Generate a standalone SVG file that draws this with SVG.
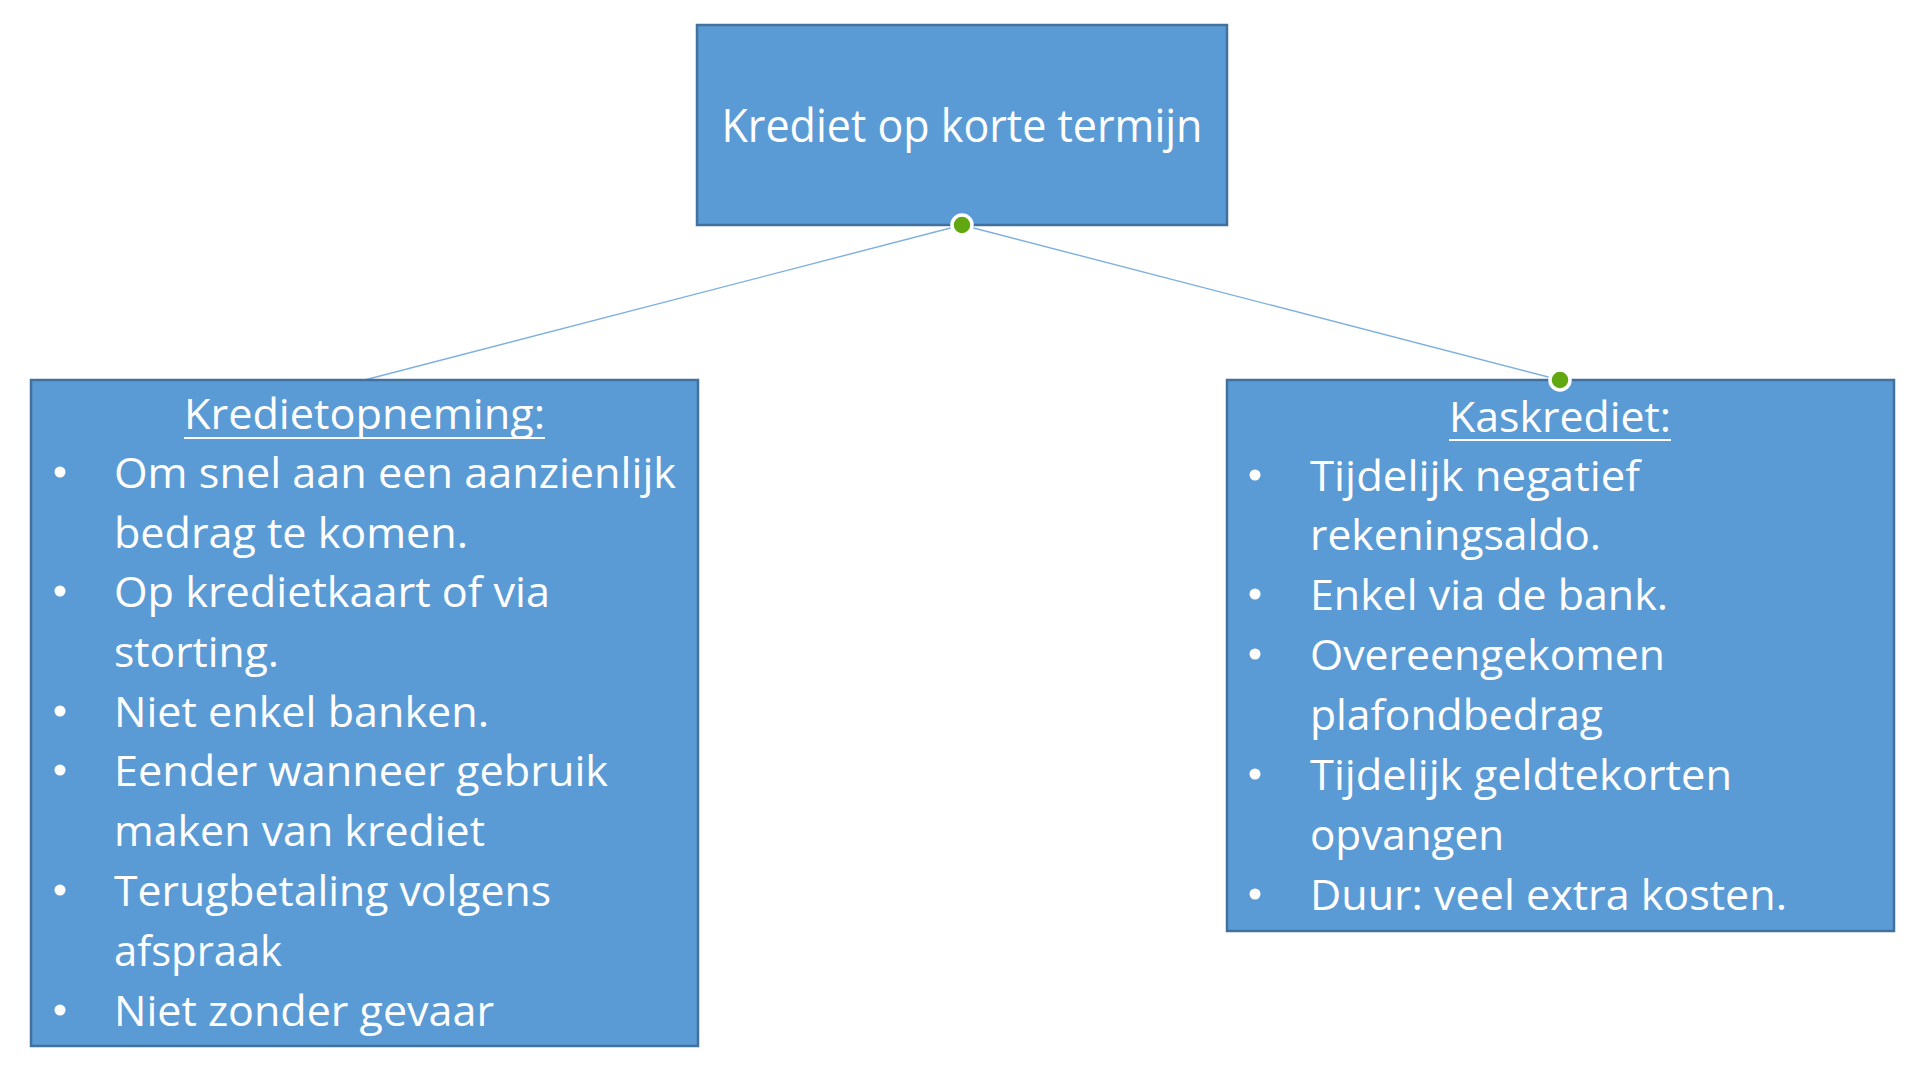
<svg xmlns="http://www.w3.org/2000/svg" width="1920" height="1065" viewBox="0 0 1920 1065">
<style>
.box{fill:#5B9BD5;stroke:#41719C;stroke-width:2.5}
.t{font-family:"Open Sans","Noto Sans",Lato,sans-serif;fill:#ffffff;font-size:41.5px}
.h{font-size:45px}
.conn{stroke:#7DB0E0;stroke-width:1.4;fill:none}
.dot{fill:#60A710;stroke:#ffffff;stroke-width:3.5}
.bul{fill:#ffffff}
.ul{stroke:#ffffff;stroke-width:2.2}
</style>
<rect width="1920" height="1065" fill="#ffffff"/>
<g id="connectors">
<line class="conn" x1="962" y1="225" x2="364.5" y2="380"/>
<line class="conn" x1="962" y1="225" x2="1560" y2="380"/>
</g>
<g id="node-top">
<rect class="box" x="697" y="25" width="530" height="200"/>
<text class="t h" x="962" y="142" text-anchor="middle" textLength="481" lengthAdjust="spacingAndGlyphs">Krediet op korte termijn</text>
</g>
<g id="node-left">
<rect class="box" x="31" y="380" width="667" height="666"/>
<text class="t" x="364.5" y="429" text-anchor="middle" textLength="361" lengthAdjust="spacingAndGlyphs">Kredietopneming:</text>
<line class="ul" x1="184" y1="438" x2="545" y2="438"/>
<circle class="bul" cx="60" cy="472" r="5.5"/>
<text class="t" x="114" y="488" textLength="562" lengthAdjust="spacingAndGlyphs">Om snel aan een aanzienlijk</text>
<text class="t" x="114" y="548" textLength="354" lengthAdjust="spacingAndGlyphs">bedrag te komen.</text>
<circle class="bul" cx="60" cy="591" r="5.5"/>
<text class="t" x="114" y="607" textLength="436" lengthAdjust="spacingAndGlyphs">Op kredietkaart of via</text>
<text class="t" x="114" y="667" textLength="165" lengthAdjust="spacingAndGlyphs">storting.</text>
<circle class="bul" cx="60" cy="711" r="5.5"/>
<text class="t" x="114" y="727" textLength="375" lengthAdjust="spacingAndGlyphs">Niet enkel banken.</text>
<circle class="bul" cx="60" cy="770" r="5.5"/>
<text class="t" x="114" y="786" textLength="494" lengthAdjust="spacingAndGlyphs">Eender wanneer gebruik</text>
<text class="t" x="114" y="846" textLength="371" lengthAdjust="spacingAndGlyphs">maken van krediet</text>
<circle class="bul" cx="60" cy="890" r="5.5"/>
<text class="t" x="114" y="906" textLength="437" lengthAdjust="spacingAndGlyphs">Terugbetaling volgens</text>
<text class="t" x="114" y="966" textLength="168" lengthAdjust="spacingAndGlyphs">afspraak</text>
<circle class="bul" cx="60" cy="1010" r="5.5"/>
<text class="t" x="114" y="1026" textLength="380" lengthAdjust="spacingAndGlyphs">Niet zonder gevaar</text>
</g>
<g id="node-right">
<rect class="box" x="1227" y="380" width="667" height="551"/>
<text class="t" x="1560" y="432" text-anchor="middle" textLength="222" lengthAdjust="spacingAndGlyphs">Kaskrediet:</text>
<line class="ul" x1="1449" y1="440" x2="1671" y2="440"/>
<circle class="bul" cx="1255" cy="475" r="5.5"/>
<text class="t" x="1310" y="491" textLength="330" lengthAdjust="spacingAndGlyphs">Tijdelijk negatief</text>
<text class="t" x="1310" y="550" textLength="291" lengthAdjust="spacingAndGlyphs">rekeningsaldo.</text>
<circle class="bul" cx="1255" cy="594" r="5.5"/>
<text class="t" x="1310" y="610" textLength="358" lengthAdjust="spacingAndGlyphs">Enkel via de bank.</text>
<circle class="bul" cx="1255" cy="654" r="5.5"/>
<text class="t" x="1310" y="670" textLength="355" lengthAdjust="spacingAndGlyphs">Overeengekomen</text>
<text class="t" x="1310" y="730" textLength="293" lengthAdjust="spacingAndGlyphs">plafondbedrag</text>
<circle class="bul" cx="1255" cy="774" r="5.5"/>
<text class="t" x="1310" y="790" textLength="422" lengthAdjust="spacingAndGlyphs">Tijdelijk geldtekorten</text>
<text class="t" x="1310" y="850" textLength="194" lengthAdjust="spacingAndGlyphs">opvangen</text>
<circle class="bul" cx="1255" cy="894" r="5.5"/>
<text class="t" x="1310" y="910" textLength="477" lengthAdjust="spacingAndGlyphs">Duur: veel extra kosten.</text>
</g>
<g id="connector-dots">
<circle class="dot" cx="962" cy="225" r="10"/>
<circle class="dot" cx="1560" cy="380" r="10"/>
</g>
</svg>
